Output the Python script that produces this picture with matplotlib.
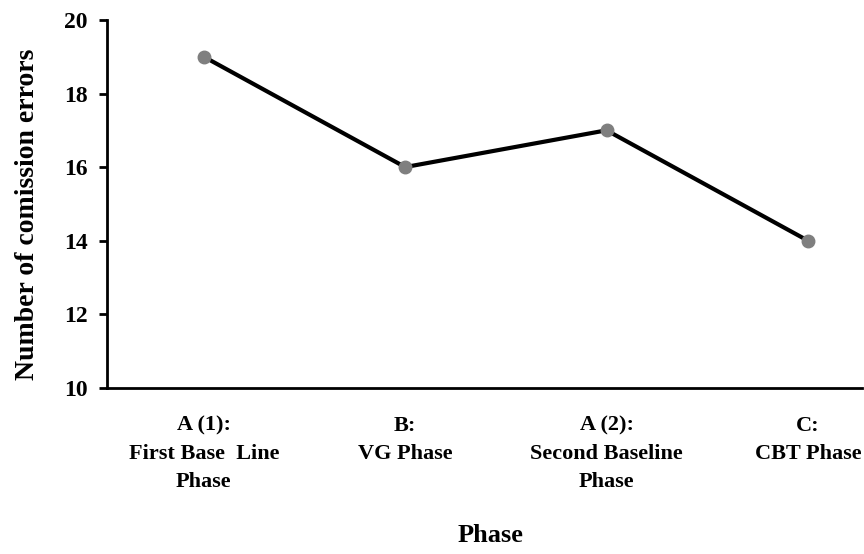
import matplotlib
matplotlib.use("Agg")
import matplotlib.pyplot as plt

categories = ["A (1):\nFirst Base  Line\nPhase", "B:\nVG Phase", "A (2):\nSecond Baseline\nPhase", "C:\nCBT Phase"]
errors = [19, 16, 17, 14]
yticks = [10, 12, 14, 16, 18, 20]

plt.rcParams['font.family'] = ['Liberation Serif', 'DejaVu Serif']
plt.rcParams['font.weight'] = 'bold'

fig = plt.figure(figsize=(8.64, 5.54), dpi=100)
ax = fig.add_axes([0.124, 0.300, 0.874, 0.664])

x = list(range(len(categories)))
ax.plot(x, errors, color='black', linewidth=3.0, marker='o', markersize=9,
        markerfacecolor='#7f7f7f', markeredgecolor='#7f7f7f', zorder=3, clip_on=False)

ax.set_ylim(10, 20)
ax.set_yticks(yticks)
ax.set_yticklabels([str(v) for v in yticks], fontsize=17, fontweight='bold')
ax.set_xlim(-0.48, 3.27)
ax.set_xticks(x)
ax.set_xticklabels(categories, fontsize=16, fontweight='bold', linespacing=1.55)
ax.tick_params(axis='x', length=0, pad=20)
ax.tick_params(axis='y', length=6, width=2, pad=8, direction='out')

for s in ['top', 'right']:
    ax.spines[s].set_visible(False)
for s in ['left', 'bottom']:
    ax.spines[s].set_linewidth(2)

fig.text(28 / 864, 1 - 214 / 554, "Number of comission errors", rotation=90,
         ha='center', va='center', fontsize=20, fontweight='bold')
fig.text(490 / 864, 1 - 536 / 554, "Phase", ha='center', va='center',
         fontsize=19, fontweight='bold')

fig.savefig("out.png", dpi=100)
